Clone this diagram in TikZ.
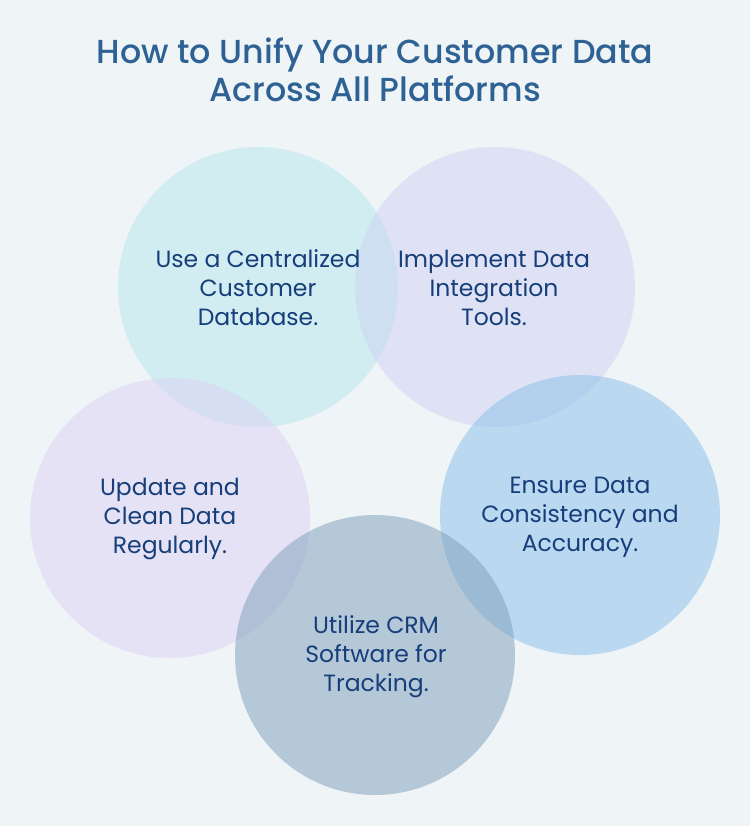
\documentclass[tikz,border=0pt]{standalone}
\usepackage{fontspec}
\setmainfont{Poppins}
\newfontfamily\titlefont{Poppins Medium}
\definecolor{bg}{RGB}{239,244,247}
\definecolor{titlecol}{RGB}{47,98,148}
\definecolor{txtcol}{RGB}{22,62,122}
\definecolor{cA}{RGB}{181,232,239}
\definecolor{cB}{RGB}{207,210,243}
\definecolor{cC}{RGB}{135,190,233}
\definecolor{cD}{RGB}{125,158,185}
\definecolor{cE}{RGB}{219,210,243}
\tikzset{
  bubble/.style={circle, minimum size=280pt, inner sep=0pt, fill opacity=0.5, text opacity=1, draw=none},
  btxt/.style={align=center, text=txtcol, font=\fontsize{23.5}{29}\selectfont},
}
\begin{document}
\begin{tikzpicture}[x=1pt,y=-1pt]
\fill[bg] (0,0) rectangle (750,826);
\useasboundingbox (0,0) rectangle (750,826);
\node[bubble, fill=cA] (c1) at (258,287) {};
\node[bubble, fill=cB] (c2) at (495,287) {};
\node[bubble, fill=cC] (c3) at (580,515) {};
\node[bubble, fill=cE] (c5) at (170,518) {};
\node[bubble, fill=cD] (c4) at (375,655) {};
\node[btxt] (t1) at (258,288) {Use a Centralized\\Customer\\Database.};
\node[btxt] (t2) at (494,288) {Implement Data\\Integration\\Tools.};
\node[btxt] (t3) at (580,517) {Ensure Data\\Consistency and\\Accuracy.};
\node[btxt] (t4) at (376,657) {Utilize CRM\\Software for\\Tracking.};
\node[btxt] (t5) at (170,519) {Update and\\Clean Data\\Regularly.};
\node[align=center, text=titlecol, font=\titlefont\fontsize{33.3}{38}\selectfont] (title) at (375,70) {How to Unify Your Customer Data\\Across All Platforms};
\end{tikzpicture}
\end{document}
